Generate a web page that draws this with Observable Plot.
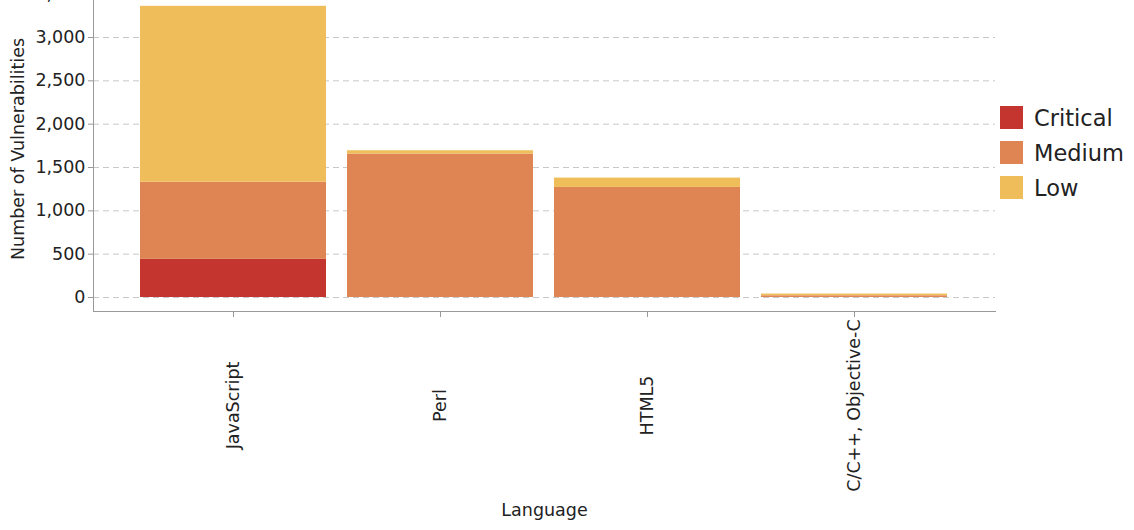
<!DOCTYPE html>
<html><head><meta charset="utf-8">
<script src="https://cdn.jsdelivr.net/npm/d3@7"></script>
<script src="https://cdn.jsdelivr.net/npm/@observablehq/plot@0.6"></script>
<style>
body{margin:0;background:#fff;font-family:"DejaVu Sans",sans-serif;}
#wrap{position:relative;width:1134px;height:530px;overflow:hidden;}
#legend{position:absolute;left:1000px;top:106px;font-size:22.5px;color:#222;}
.item{display:flex;align-items:center;height:23px;margin-bottom:12px;}
.sw{width:23px;height:23px;margin-right:11px;}
</style></head><body><div id="wrap"><div id="legend"></div></div>
<script>
const languages = ["JavaScript", "Perl", "HTML5", "C/C++, Objective-C"];
const severities = ["Critical", "Medium", "Low"];
const critical = [440, 0, 0, 0];
const medium = [890, 1655, 1270, 20];
const low = [2030, 38, 108, 20];
const colors = ["#c4352f", "#de8553", "#f0bd5b"];
const yTicks = [0, 500, 1000, 1500, 2000, 2500, 3000, 3500];

const series = {Critical: critical, Medium: medium, Low: low};
const data = [];
languages.forEach((l, i) => severities.forEach(s => data.push({language: l, severity: s, count: series[s][i]})));

const chart = Plot.plot({
  width: 1134, height: 530,
  marginLeft: 93, marginRight: 139, marginTop: 0, marginBottom: 219,
  style: {fontFamily: "DejaVu Sans", fontSize: "17.5px", color: "#222", background: "#fff"},
  x: {domain: languages, paddingInner: 0.1, paddingOuter: 0.225, label: null},
  y: {domain: [-161.5, 3427], label: null},
  color: {domain: severities, range: colors},
  marks: [
    Plot.gridY(yTicks, {stroke: "#c8c8c8", strokeOpacity: 1, strokeDasharray: "6,4"}),
    Plot.barY(data, Plot.stackY({x: "language", y: "count", fill: "severity", order: severities})),
    Plot.frame({anchor: "left", stroke: "#999"}),
    Plot.frame({anchor: "bottom", stroke: "#999"}),
    Plot.axisY(yTicks, {tickFormat: d3.format(",d"), tickSize: 5, tickPadding: 3, label: null, stroke: "#999"}),
    Plot.axisX({tickRotate: -90, textAnchor: "middle", tickSize: 6, tickPadding: 88, label: null, stroke: "#999"}),
    Plot.text(["Number of Vulnerabilities"], {frameAnchor: "left", textAnchor: "middle", rotate: -90, dx: -75, dy: -7, fontSize: 17.5, fill: "#222"}),
    Plot.text(["Language"], {frameAnchor: "bottom", dy: 204, fontSize: 17.5, fill: "#222"})
  ]
});
document.getElementById("wrap").prepend(chart);

const legend = document.getElementById("legend");
severities.forEach((s, i) => {
  const d = document.createElement("div");
  d.className = "item";
  const sw = document.createElement("div");
  sw.className = "sw";
  sw.style.background = colors[i];
  const t = document.createElement("span");
  t.textContent = s;
  d.append(sw, t);
  legend.append(d);
});
</script></body></html>
